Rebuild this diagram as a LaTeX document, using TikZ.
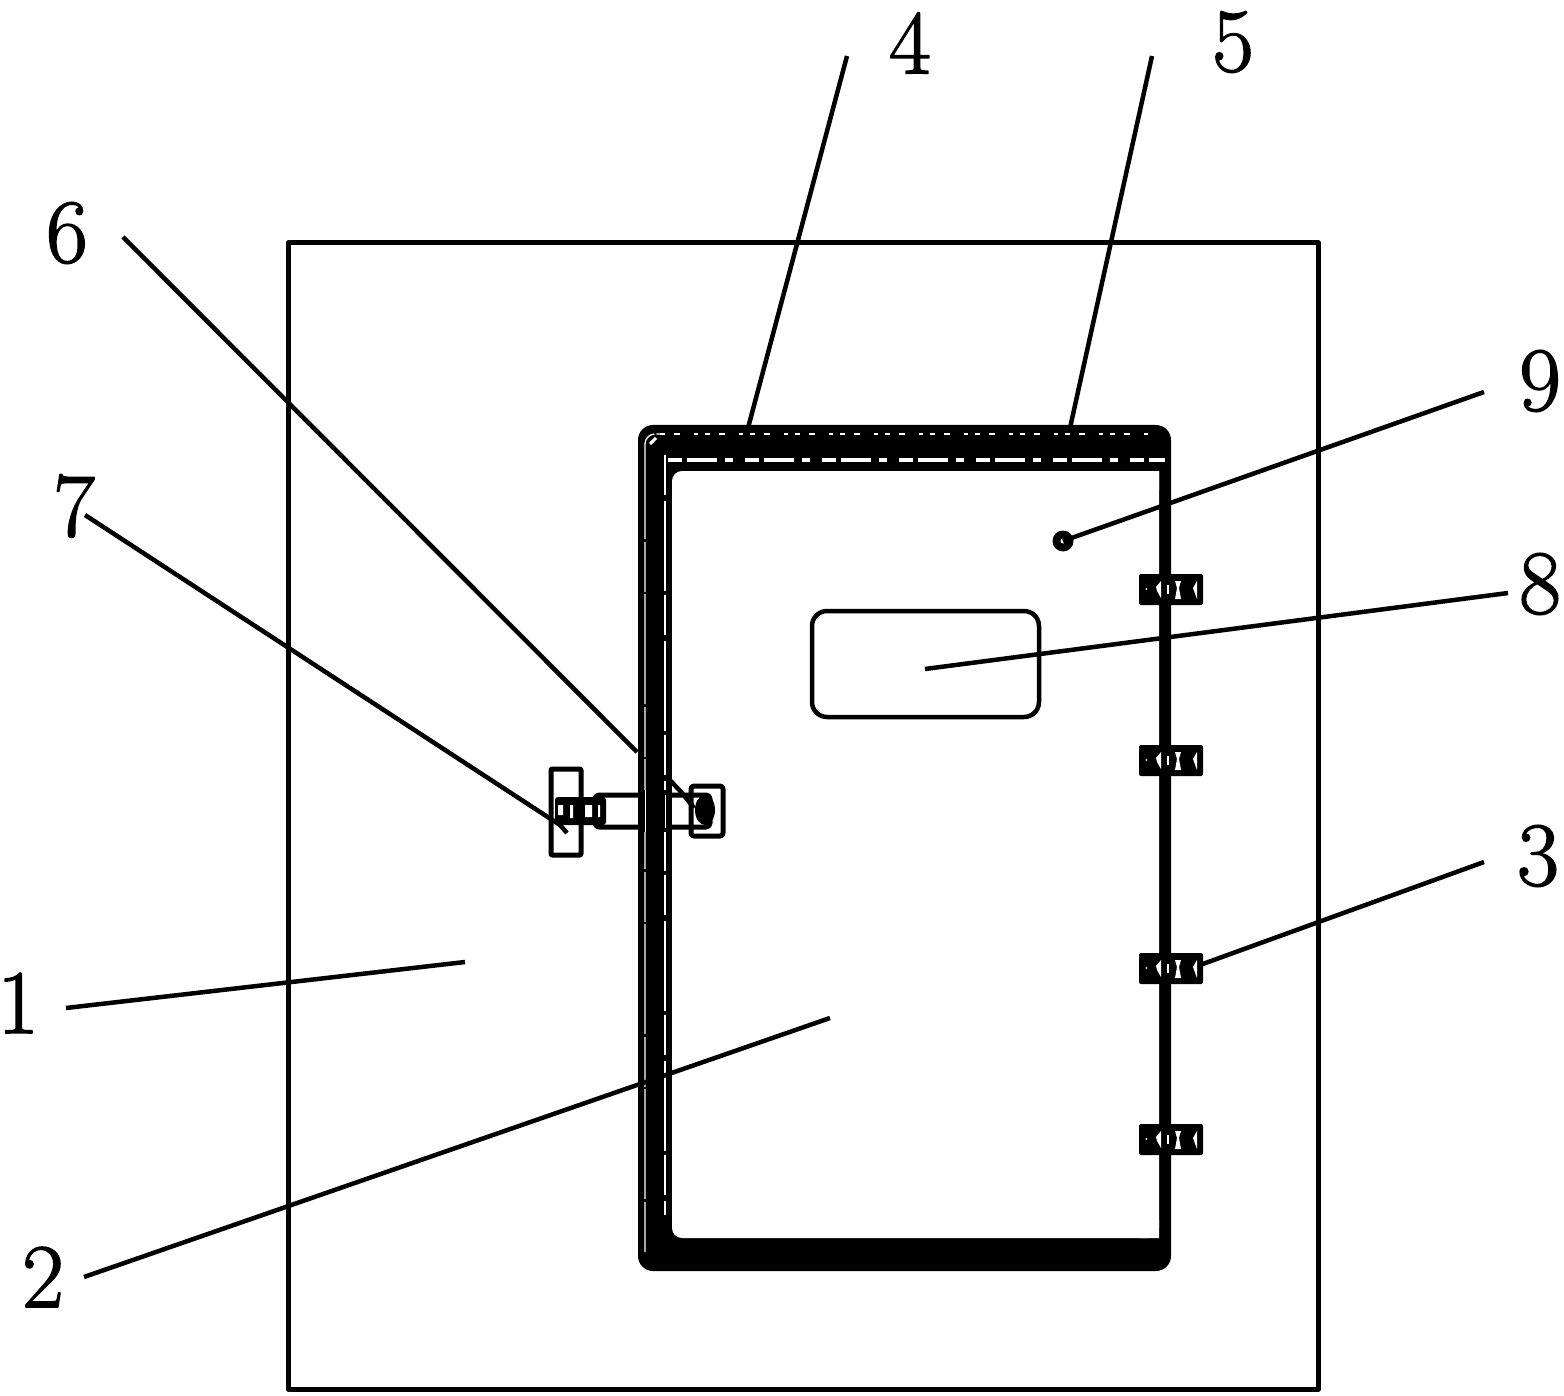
\documentclass[tikz,border=0pt]{standalone}
\usepackage{fontspec}
\setmainfont{Latin Modern Roman}[FakeBold=1.6]
\begin{document}
\begin{tikzpicture}[x=1pt,y=-1pt,
  every path/.style={line join=round},
  num/.style={inner sep=0pt,font=\fontsize{91}{91}\selectfont},
  leader/.style={draw=black,line width=4.5pt},
  wire/.style={draw=black,line width=5pt},
  slit/.style={draw=white,line width=1.2pt}]
\useasboundingbox (0,0) rectangle (1564,1396);
\fill[white] (0,0) rectangle (1564,1396);
% sheet
\draw[wire] (288,243) rectangle (1318,1389);
% door body
\fill[black,rounded corners=15pt] (638,425) rectangle (1171,1271);
\fill[white,rounded corners=10pt] (1159,471) -- (672,471) -- (672,1238) -- (1159,1238) {[sharp corners] -- cycle};
\fill[white] (1140,471) rectangle (1159,490) (1140,1220) rectangle (1159,1238);
% slits of the door band
\draw[slit,rounded corners=10pt,dash pattern=on 50pt off 3pt on 110pt off 2pt] (645,1252) -- (645,434) -- (660,434);
\draw[slit,line width=2.5pt,dash pattern=on 5pt off 9pt on 6pt off 14pt on 4pt off 7pt] (660,434) -- (1150,434);
\draw[slit,line width=3pt,dash pattern=on 14pt off 5pt on 30pt off 8pt on 8pt off 12pt] (668,460) -- (1165,460);
\draw[slit,dash pattern=on 40pt off 6pt on 90pt off 4pt] (665,455) -- (665,1215);
\draw[white,line width=3pt] (650,444) -- (656,438);
% hinges
\foreach \y/\nm in {574/a,745/b,953/c,1124/d}{
  \fill[black,rounded corners=2pt] (1139,\y) rectangle (1203,\y+31);
  \begin{scope}[shift={(1139,\y)}]
    \fill[white] (6,15) -- (8,14) -- (8,16) -- cycle;
    \fill[white] (17,13) -- (22,7) -- (22,24) -- (18,17) -- cycle;
    \fill[white] (28,11) rectangle (29.5,20);
    \fill[white] (36,7) -- (42,7) -- (40,14) -- (42,25) -- (36,25) -- (38,14) -- cycle;
    \fill[white] (54,14) -- (58,7) -- (58,25) -- cycle;
  \end{scope}
}
% handle
\draw[wire,rounded corners=4pt] (595,795) -- (710,795) -- (710,827) -- (595,827) -- cycle;
\draw[wire,fill=white,rounded corners=1pt] (551,769) rectangle (581,855);
\fill[black,rounded corners=3pt] (555,797) rectangle (606,825);
\fill[white] (558,805) rectangle (563,815) (570,805) rectangle (573,818) (585,805) rectangle (592,817) (598,805) rectangle (600,817);
\fill[black] (638,790) rectangle (672,832);
\fill[white] (644.5,790) rectangle (645.7,832);
\fill[white] (665,795) rectangle (666.2,828);
\draw[wire,rounded corners=3pt] (691,786) rectangle (723,836);
\fill[black] (705,810) ellipse (10pt and 15pt);
\draw[black,line width=4.5pt] (668,778) -- (682,793) -- (694,808);
% display
\draw[black,line width=4.5pt,rounded corners=15pt] (812,611) rectangle (1039,717);
% indicator
\fill[black] (1063,541) circle (10.5pt);
\fill[white] (1063,541) circle (2.5pt);
% label nodes
\node[num] (n4) at (910,43) {4};
\node[num] (n5) at (1233,42) {5};
\node[num] (n6) at (67,233) {6};
\node[num] (n7) at (74,506) {7};
\node[num] (n9) at (1540,381) {9};
\node[num] (n8) at (1540,584) {8};
\node[num] (n3) at (1538,856) {3};
\node[num] (n1) at (18,1003) {1};
\node[num] (n2) at (43,1277) {2};
% leader ends
\coordinate (a4) at (847,56);  \coordinate (b4) at (748,428);
\coordinate (a5) at (1152,56); \coordinate (b5) at (1070,428);
\coordinate (a6) at (123,237); \coordinate (b6) at (637,752);
\coordinate (a7) at (85,515);  \coordinate (b7) at (560,825);
\coordinate (c7) at (567,833);
\coordinate (a9) at (1484,392); \coordinate (b9) at (1063,541);
\coordinate (a8) at (1508,593); \coordinate (b8) at (925,669);
\coordinate (a3) at (1484,862); \coordinate (b3) at (1200,965);
\coordinate (a1) at (66,1008); \coordinate (b1) at (465,962);
\coordinate (a2) at (84,1277); \coordinate (b2) at (830,1018);
\foreach \i in {4,5,6,9,8,3,1,2} \draw[leader] (a\i) -- (b\i);
\draw[leader] (a7) -- (b7) -- (c7);
\end{tikzpicture}
\end{document}
